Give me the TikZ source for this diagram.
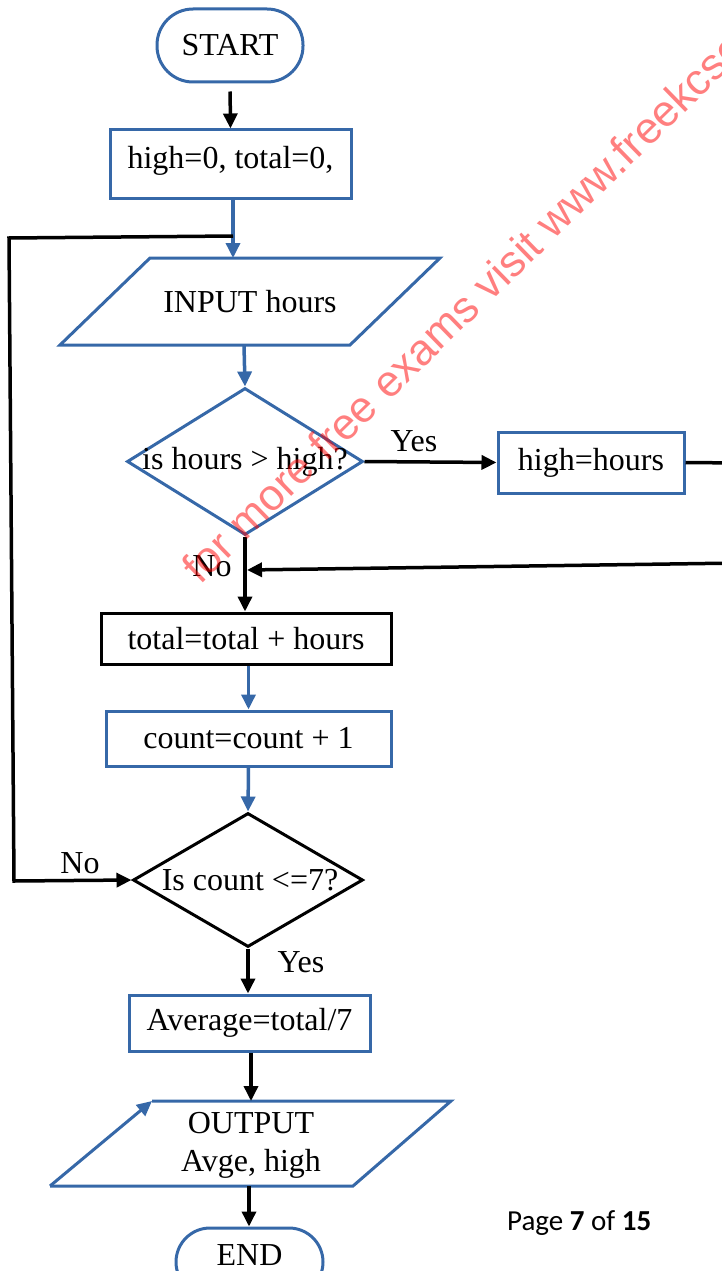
\documentclass[tikz,border=0pt]{standalone}
\usepackage{fontspec}
\setmainfont{Liberation Serif}
\newfontfamily\wmfont{Liberation Sans}
\newfontfamily\pgfont{Carlito}
\usetikzlibrary{arrows.meta,shapes.geometric}
\definecolor{fcblue}{RGB}{54,104,168}
\begin{document}
\begin{tikzpicture}[x=1pt,y=-1pt,
  txt/.style={font=\fontsize{32}{37}\selectfont, inner sep=0pt},
  term/.style={txt, draw=fcblue, line width=3pt, rectangle, minimum width=146pt},
  bbox/.style={txt, draw=fcblue, line width=3pt, rectangle},
  kbox/.style={txt, draw=black, line width=3pt, rectangle},
  dia/.style={txt, diamond, line width=3pt},
  arr/.style={line width=3.5pt, -{Triangle[length=15pt,width=14pt]}},
  barr/.style={arr, draw=fcblue},
  shp/.style={draw=fcblue, line width=3pt, line join=miter},
  lbl/.style={txt}
]
\useasboundingbox (0,0) rectangle (722,1271);
\clip (0,0) rectangle (722,1271);

% nodes
\node[term, minimum height=73pt, rounded corners=36pt] (start) at (230,45.5) {START};
\node[bbox, minimum width=241pt, minimum height=68pt] (init) at (230.5,164) {\raisebox{13pt}{high=0, total=0,}};
\node[txt] (inp) at (250,302) {INPUT hours};
\draw[shp] (60,345) -- (150,258) -- (440,258) -- (350,345) -- cycle;
\coordinate (inpT) at (233,258);
\coordinate (inpB) at (244,345);
\node[dia, draw=fcblue, minimum width=236pt, minimum height=147pt] (d1) at (245,461.5) {\makebox[0pt]{is hours > high?}};
\node[bbox, minimum width=186pt, minimum height=61pt] (hh) at (591,462.5) {high=hours};
\node[kbox, minimum width=290pt, minimum height=51pt] (tot) at (246,638.5) {total=total + hours};
\node[bbox, minimum width=285pt, minimum height=55pt] (cnt) at (248.5,738.5) {count=count + 1};
\node[dia, draw=black, minimum width=230pt, minimum height=134pt] (d2) at (248,880) {\makebox[0pt]{\hspace{4pt}Is count <=7?}};
\node[bbox, minimum width=241pt, minimum height=56pt] (avg) at (249.5,1023) {Average=total/7};
\node[txt, align=center] (out) at (251,1145) {OUTPUT\\[1pt]Avge, high};
\draw[shp] (152,1101) -- (451,1101) -- (353,1186) -- (50,1186);
\draw[shp, -{Triangle[length=15pt,width=14pt]}] (50,1186) -- (152,1101);
\coordinate (outT) at (251,1101);
\coordinate (outB) at (249,1186);
\node[term, minimum width=147pt, minimum height=68pt, rounded corners=34pt] (end) at (249.5,1262) {\raisebox{13pt}{END}};

% labels
\node[lbl] (yes1) at (414,441) {Yes};
\node[lbl] (no1) at (212,566) {No};
\node[lbl] (no2) at (80,863) {No};
\node[lbl] (yes2) at (301,962) {Yes};
\node[font=\pgfont\fontsize{29}{34}\selectfont, inner sep=0pt, anchor=base west] (page) at (507,1230) {Page \textbf{7} of \textbf{15}};

% connectors
\draw[arr, shorten <=8pt] (start.south) -- (init.north);
\draw[barr] (init.south -| inpT) -- (inpT);
\draw[barr] (inpB) -- (d1.north);
\coordinate (j1) at (233,236);
\draw[arr, line join=miter] (j1) -- (9,238) -- (14,881) -- (d2.west);
\draw[arr] (d1.east) -- (hh.west);
\coordinate (j2) at (247,570);
\draw[arr, line join=miter] (hh.east) -- (740,463) -- (740,563) -- (j2);
\draw[arr] (d1.south) -- (tot.north -| d1.south);
\draw[barr] (tot.south -| cnt.north) -- (cnt.north);
\draw[barr] (cnt.south) -- (d2.north);
\draw[arr] (d2.south) -- (avg.north -| d2.south);
\draw[arr] (avg.south -| outT) -- (outT);
\draw[arr] (outB) -- (end.north -| outB);

% watermark
\node[rotate=44.3, anchor=base west, text=red, text opacity=0.5, inner sep=0pt,
  font=\wmfont\fontsize{44}{51}\selectfont] (wm) at (200,586) {for more free exams visit www.freekcse.com};
\end{tikzpicture}
\end{document}
